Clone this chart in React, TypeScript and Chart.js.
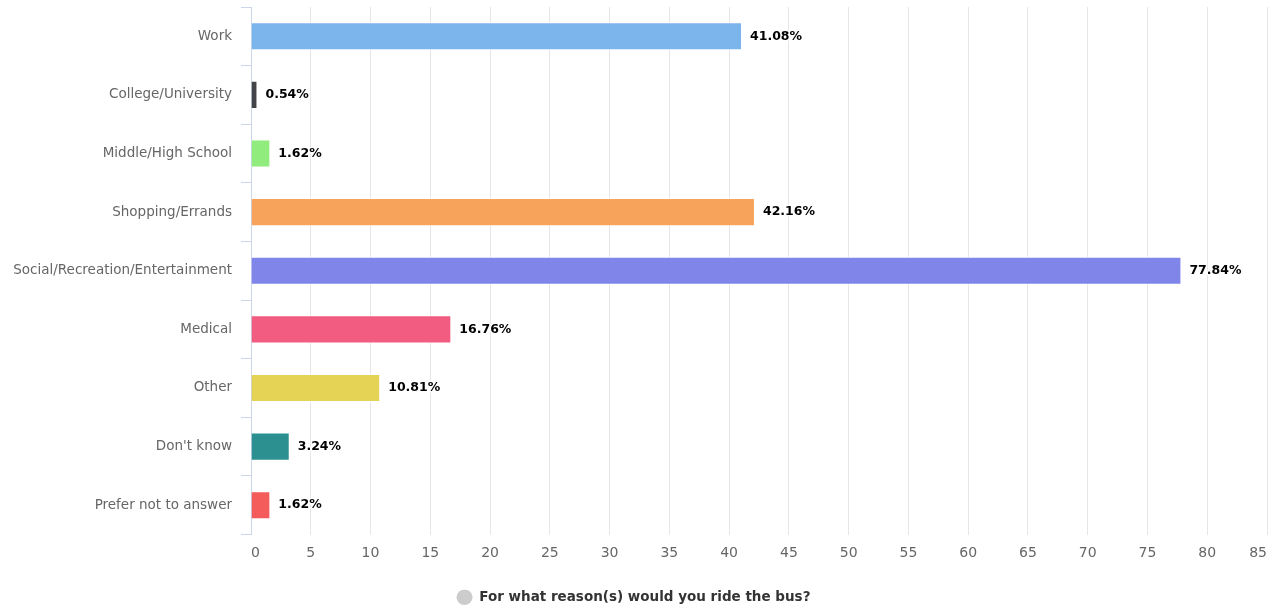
import React, { useEffect, useRef } from "react";
import { Chart, registerables } from "chart.js";

Chart.register(...registerables);

const categories = [
  "Work",
  "College/University",
  "Middle/High School",
  "Shopping/Errands",
  "Social/Recreation/Entertainment",
  "Medical",
  "Other",
  "Don't know",
  "Prefer not to answer",
];
const values = [41.08, 0.54, 1.62, 42.16, 77.84, 16.76, 10.81, 3.24, 1.62];
const barColors = [
  "#7cb5ec",
  "#434348",
  "#90ed7d",
  "#f7a35c",
  "#8085e9",
  "#f15c80",
  "#e4d354",
  "#2b908f",
  "#f45b5b",
];
const seriesName = "For what reason(s) would you ride the bus?";
const xMin = 0;
const xMax = 85;
const xStep = 5;

const FONT = "'DejaVu Sans', sans-serif";

const dataLabelPlugin = {
  id: "dataLabels",
  afterDatasetsDraw(chart: any) {
    const ctx = chart.ctx;
    const meta = chart.getDatasetMeta(0);
    ctx.save();
    ctx.font = `bold 12.5px ${FONT}`;
    ctx.textBaseline = "middle";
    ctx.textAlign = "left";
    ctx.lineJoin = "round";
    meta.data.forEach((el: any, i: number) => {
      const txt = values[i].toFixed(2) + "%";
      const x = el.x + 8;
      const y = el.y;
      ctx.strokeStyle = "#ffffff";
      ctx.lineWidth = 3;
      ctx.strokeText(txt, x, y);
      ctx.fillStyle = "#000000";
      ctx.fillText(txt, x, y);
    });
    ctx.restore();
  },
};

export default function App() {
  const ref = useRef<HTMLCanvasElement | null>(null);

  useEffect(() => {
    document.body.style.margin = "0";
    const canvas = ref.current;
    if (!canvas) return;
    const chart = new Chart(canvas, {
      type: "bar",
      data: {
        labels: categories,
        datasets: [
          {
            label: seriesName,
            data: values,
            backgroundColor: barColors,
            borderColor: "#ffffff",
            borderWidth: 1,
            categoryPercentage: 0.48,
            barPercentage: 1,
          },
        ],
      },
      options: {
        indexAxis: "y",
        animation: false,
        responsive: false,
        maintainAspectRatio: false,
        layout: { padding: { top: 7, right: 9, left: 0, bottom: -3 } },
        plugins: {
          tooltip: { enabled: false },
          legend: {
            position: "bottom",
            labels: {
              font: { family: FONT, size: 13.5, weight: "bold" },
              color: "#333333",
              usePointStyle: true,
              boxHeight: 11,
              pointStyleWidth: 16,
              padding: 1,
              generateLabels: () => [
                {
                  text: seriesName,
                  fillStyle: "#cccccc",
                  strokeStyle: "#cccccc",
                  lineWidth: 0,
                  pointStyle: "circle",
                  hidden: false,
                  datasetIndex: 0,
                  fontColor: "#333333",
                } as any,
              ],
            },
            onClick: () => {},
          },
        },
        scales: {
          x: {
            min: xMin,
            max: xMax,
            ticks: {
              stepSize: xStep,
              color: "#666666",
              font: { family: FONT, size: 14 },
              padding: 10,
              align: "inner",
            },
            grid: {
              color: "#e6e6e6",
              drawTicks: false,
              lineWidth: 1,
            },
            border: { display: false },
            afterFit: (scale: any) => {
              scale.height = 55;
              scale.paddingLeft = 0;
              scale.paddingRight = 0;
            },
          },
          y: {
            ticks: {
              color: "#666666",
              font: { family: FONT, size: 13.5 },
              padding: 9,
            },
            grid: {
              drawOnChartArea: false,
              drawTicks: true,
              tickLength: 10,
              color: "#ccd6eb",
              offset: true,
            },
            border: { display: true, color: "#ccd6eb", width: 1 },
            afterFit: (scale: any) => {
              scale.width = 251;
              scale.paddingTop = 0;
              scale.paddingBottom = 0;
            },
          },
        },
      },
      plugins: [dataLabelPlugin],
    } as any);
    return () => chart.destroy();
  }, []);

  return (
    <div style={{ width: 1276, height: 611 }}>
      <canvas ref={ref} width={1276} height={611} style={{ display: "block" }} />
    </div>
  );
}
